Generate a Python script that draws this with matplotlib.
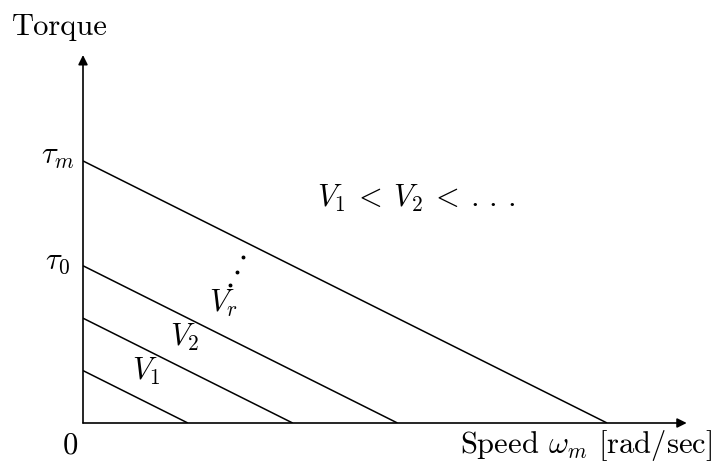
import matplotlib
matplotlib.use("Agg")
import matplotlib.pyplot as plt

# torque-speed lines of a DC motor for rising armature voltage
# (arbitrary units)
no_load_speed = [1, 2, 3, 5]
stall_torque = [1, 2, 3, 5]
curve_labels = [r"$V_1$", r"$V_2$", r"$V_r$"]
tick_labels = {r"$\tau_0$": 3, r"$\tau_m$": 5}

plt.rcParams["mathtext.fontset"] = "cm"
plt.rcParams["font.family"] = "cmr10"
plt.rcParams["axes.formatter.use_mathtext"] = True

FS = 22

fig = plt.figure(figsize=(7.15, 4.65), dpi=100)
ax = fig.add_axes([83 / 715, 42 / 465, 632 / 715, 423 / 465])
ax.set_xlim(0, 6.03)
ax.set_ylim(0, 8.07)
ax.axis("off")

# axes with arrow heads
arrow = dict(arrowstyle="-|>", lw=1.2, color="k", mutation_scale=14,
             shrinkA=0, shrinkB=0)
ax.annotate("", xy=(5.76, 0), xytext=(0, 0), arrowprops=arrow)
ax.annotate("", xy=(0, 7.02), xytext=(0, 0), arrowprops=arrow)

for w0, t0 in zip(no_load_speed, stall_torque):
    ax.plot([0, w0], [t0, 0], color="k", lw=1.1, solid_capstyle="butt")

# labels on the curves
label_pos = [(0.60, 0.99), (0.97, 1.64), (1.34, 2.29)]
for lab, (x, y) in zip(curve_labels, label_pos):
    ax.text(x, y, lab, fontsize=FS, ha="center", va="center")
ax.plot([1.40, 1.47, 1.53], [2.63, 2.88, 3.17], ls="none", marker="o",
        ms=1.8, color="k")

for lab, v in tick_labels.items():
    ax.text(-0.24, v + 0.07, lab, fontsize=FS, ha="center", va="center")

ax.text(-0.12, -0.44, "0", fontsize=FS, ha="center", va="center")
ax.text(-0.22, 7.54, "Torque", fontsize=FS, ha="center", va="center")
ax.text(6.0, -0.42, r"Speed $\omega_m$ [rad/sec]", fontsize=FS,
        ha="right", va="center")
ax.text(3.18, 4.29, r"$V_1\:<\:V_2\:<\:.\,.\,.$", fontsize=FS,
        ha="center", va="center")

fig.savefig("out.png", dpi=100)
